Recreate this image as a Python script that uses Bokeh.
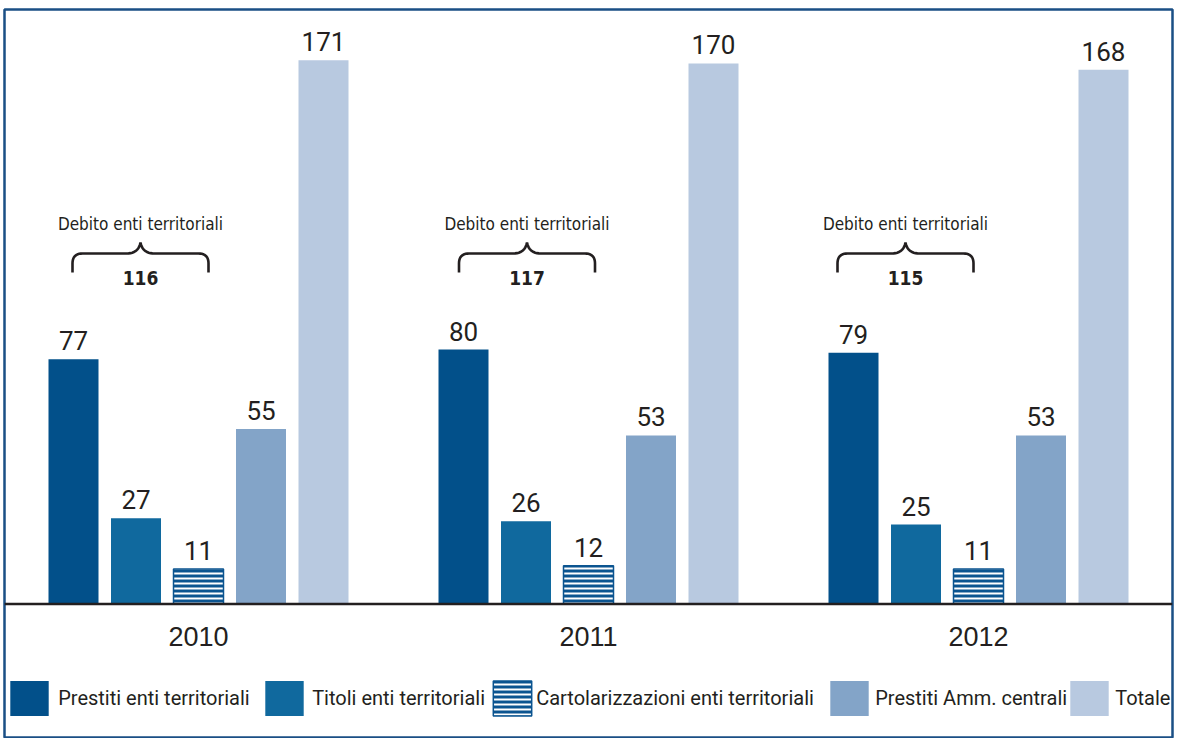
import numpy as np
from bokeh.plotting import figure
from bokeh.models import Range1d, Span, Legend, LegendItem, ColumnDataSource
from bokeh.core.properties import value
from bokeh.embed import file_html
from bokeh.resources import INLINE

# ---------------- data ----------------
years = ["2010", "2011", "2012"]
series_names = ["Prestiti enti territoriali", "Titoli enti territoriali",
                "Cartolarizzazioni enti territoriali", "Prestiti Amm. centrali", "Totale"]
prestiti_enti = [77, 80, 79]
titoli_enti = [27, 26, 25]
cartolarizzazioni = [11, 12, 11]
prestiti_amm = [55, 53, 53]
totale = [171, 170, 168]
debito_enti = [116, 117, 115]
debito_label = "Debito enti territoriali"

# ---------------- layout / style ----------------
W, H = 1177, 738
FL, FR, FT = 4, 1172, 9          # frame left / right / top (page px)
FW = FR - FL
PXX = 390.0          # px per year group
PXY = 3.18           # px per unit value
BASE_PAGE = 603.5    # baseline (page px)
STEP = 62.5 / PXX
BW = 50 / PXX
x_start = -(198 - FL) / PXX
brace_dx = [4.5, 1.0, -10.5]     # px shift of each brace from 2nd bar centre

def yv(page_y):
    """data value of a page y position"""
    return (BASE_PAGE - page_y) / PXY

colors = ["#02508a", "#10699e", "#0b5490", "#83a4c8", "#b8c9e0"]
INK = "#231f20"
MAIN_NAME = "Roboto"
MAIN = value(MAIN_NAME)
COND = value("DejaVu Sans Condensed, Roboto")
SANS = value("Liberation Sans")

p = figure(width=W, height=H, output_backend="svg", toolbar_location=None,
           x_range=Range1d(x_start, x_start + FW / PXX),
           y_range=Range1d(yv(H), yv(FT)),
           min_border_left=FL, min_border_right=W - FR, min_border_top=FT,
           min_border_bottom=0, background_fill_color="white", border_fill_color="white")
p.axis.visible = False
p.grid.visible = False
p.outline_line_color = "#1a4f85"
p.outline_line_width = 2.5

all_series = [prestiti_enti, titoli_enti, cartolarizzazioni, prestiti_amm, totale]
LABEL_GAP = 18.5 / PXY   # cap-centre of value label above bar top
renderers = []
for k, vals in enumerate(all_series):
    xs = [i + (k - 2) * STEP for i in range(len(years))]
    src = ColumnDataSource(dict(x=xs, top=vals, ly=[v + LABEL_GAP for v in vals],
                                lab=[str(v) for v in vals]))
    if k == 2:
        r = p.vbar(x="x", top="top", width=BW, bottom=0, source=src,
                   fill_color=colors[k], line_color=colors[k], line_width=1.5,
                   hatch_pattern="horizontal_line", hatch_color="white",
                   hatch_scale=5, hatch_weight=2)
    else:
        r = p.vbar(x="x", top="top", width=BW, bottom=0, source=src,
                   fill_color=colors[k], line_color=None)
    renderers.append(r)
    p.text(x="x", y="ly", text="lab", source=src, text_align="center",
           text_baseline="middle", text_font=MAIN,
           text_font_size="26px", text_color=INK)

# baseline
p.add_layout(Span(location=0, dimension="width", line_color=INK, line_width=2.5))

# year labels
p.text(x=list(range(len(years))), y=[yv(636)] * len(years), text=years,
       text_align="center", text_baseline="middle", text_font=SANS,
       text_font_size="27px", text_color=INK)

# braces for "Debito enti territoriali"
peak = yv(242)

def qbez(p0, p1, p2, n=12):
    t = np.linspace(0, 1, n)[:, None]
    return (1 - t) ** 2 * np.array(p0) + 2 * (1 - t) * t * np.array(p1) + t ** 2 * np.array(p2)

half = np.vstack([
    [[-68, 30]],
    qbez((-68, 21), (-68, 11), (-58, 11)),
    qbez((-14, 11), (-2, 11), (0, 0)),
])
full = np.vstack([half, half[::-1][1:] * np.array([-1, 1])])

bx, by, cx, labs, nums = [], [], [], [], []
for i, tot in enumerate(debito_enti):
    c = i - STEP + brace_dx[i] / PXX
    bx.append(list(c + full[:, 0] / PXX))
    by.append(list(peak - full[:, 1] / PXY))
    cx.append(c)
    labs.append(debito_label)
    nums.append(str(tot))
p.multi_line(xs=bx, ys=by, line_color=INK, line_width=2.6)
p.text(x=cx, y=[yv(223.5)] * 3, text=labs, text_align="center",
       text_baseline="middle", text_font=COND, text_font_size="17px", text_color=INK)
p.text(x=cx, y=[yv(277.5)] * 3, text=nums, text_align="center",
       text_baseline="middle", text_font=COND, text_font_size="19px",
       text_font_style="bold", text_color=INK)

# legend: one entry per series, positioned like the original
sq_left = [10, 265, 493, 830, 1070]
text_left = [58, 312, 535, 875, 1115]
GW, GH = 48, 44
for k, name in enumerate(series_names):
    leg = Legend(items=[LegendItem(label=name, renderers=[renderers[k]])],
                 location=(sq_left[k] - FL - 0.1 * GW, H - (716 + 0.1 * GH)),
                 glyph_width=GW, glyph_height=GH,
                 label_standoff=int(max(round(text_left[k] - (sq_left[k] - 0.1 * GW + GW)), 0)),
                 padding=0, margin=0, spacing=0, border_line_color=None,
                 background_fill_alpha=0, label_text_font=MAIN_NAME,
                 label_text_font_size="20px", label_text_color=INK)
    p.add_layout(leg, "center")

open("out.html", "w").write(file_html(p, INLINE))
